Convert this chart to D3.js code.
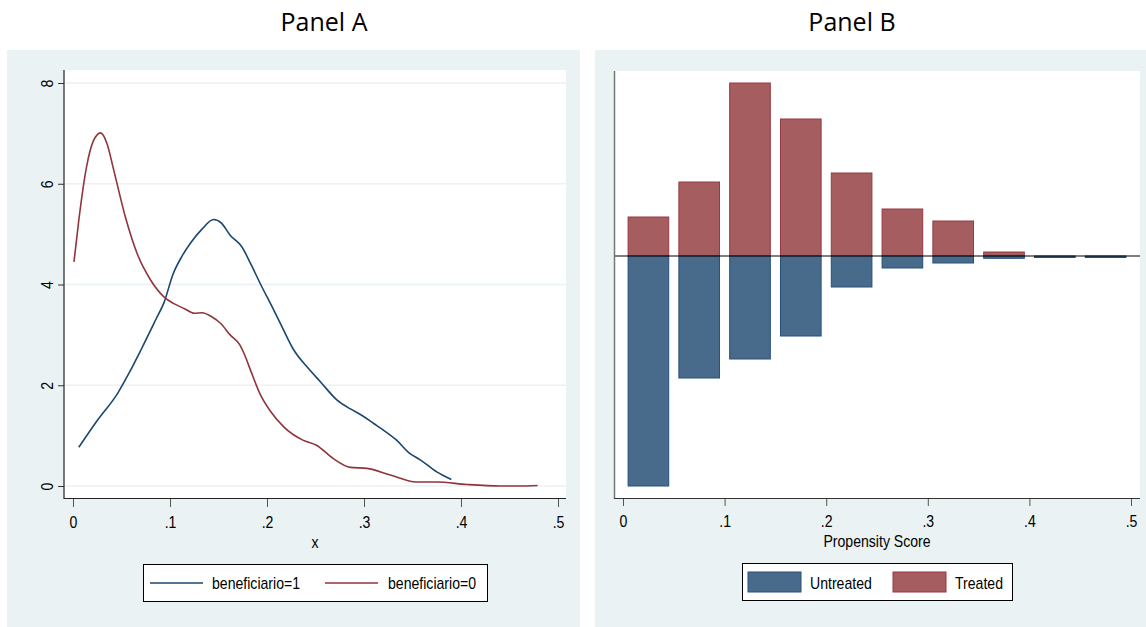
<!DOCTYPE html>
<html>
<head>
<meta charset="utf-8">
<script src="https://cdn.jsdelivr.net/npm/d3@7"></script>
<style>
  body { margin: 0; background: white; }
  .lab { font-family: 'Liberation Sans', Arial, sans-serif; font-size: 16px; fill: #000; }
  .title { font-family: 'Open Sans', 'Noto Sans', sans-serif; font-size: 25px; fill: #000; }
</style>
</head>
<body>
<script>
// Panel A: kernel density, [x, density]
var densTreated = [[0.006,0.77],[0.025,1.3],[0.046,1.84],[0.058,2.25],[0.070,2.70],[0.085,3.29],[0.094,3.65],
  [0.103,4.2],[0.112,4.55],[0.121,4.82],[0.133,5.1],[0.145,5.29],[0.153,5.22],[0.162,4.98],[0.174,4.75],
  [0.183,4.42],[0.193,4.02],[0.207,3.49],[0.217,3.1],[0.227,2.72],[0.241,2.37],[0.255,2.07],[0.272,1.71],
  [0.286,1.53],[0.298,1.40],[0.310,1.24],[0.320,1.11],[0.333,0.92],[0.347,0.65],[0.358,0.52],[0.375,0.28],[0.390,0.13]];
var densControl = [[0.001,4.45],[0.006,5.28],[0.014,6.34],[0.021,6.85],[0.0285,7.01],[0.035,6.8],[0.042,6.27],
  [0.054,5.34],[0.066,4.62],[0.080,4.09],[0.094,3.75],[0.104,3.62],[0.115,3.52],[0.125,3.43],[0.133,3.44],
  [0.143,3.36],[0.152,3.23],[0.162,3.0],[0.172,2.8],[0.177,2.6],[0.183,2.3],[0.193,1.82],[0.203,1.5],
  [0.217,1.18],[0.237,0.91],[0.251,0.81],[0.268,0.55],[0.286,0.37],[0.303,0.35],[0.327,0.22],[0.354,0.08],
  [0.375,0.08],[0.406,0.03],[0.440,0.0],[0.460,0.0],[0.479,0.01]];
var densLabels = ['beneficiario=1', 'beneficiario=0'];

// Panel B: propensity score histogram (bins of .05), heights in bar units
var binStarts = [0, 0.05, 0.1, 0.15, 0.2, 0.25, 0.3, 0.35, 0.4, 0.45];
var treated = [39, 74, 173, 137, 83, 47, 35, 4, 0, 0];
var untreated = [230, 122, 103, 80, 31, 12, 7, 2.3, 1.5, 1.5];
var histLabels = ['Untreated', 'Treated'];

var xTicks = [0, 0.1, 0.2, 0.3, 0.4, 0.5];
var yTicksA = [0, 2, 4, 6, 8];

var BG = '#eaf2f3';
var BLUE = '#1a476f', RED = '#90353b';
var BAR_BLUE = '#486b8b', BAR_BLUE_EDGE = '#26507a';
var BAR_RED = '#a55d60', BAR_RED_EDGE = '#953a42';
var NARROW = 0.88; // Stata's labels are set in a condensed Arial

var fmt = function (d) { return d === 0 ? '0' : d3.format('.1f')(d).replace(/^0/, ''); };

// place a condensed label at (x, y)
function label(g, x, y, txt, anchor) {
  return g.append('text').attr('class', 'lab')
    .attr('transform', 'translate(' + x + ',' + y + ') scale(' + NARROW + ',1)')
    .attr('text-anchor', anchor || 'start').text(txt);
}

var svg = d3.select('body').append('svg').attr('width', 1146).attr('height', 627);

// ---------- Panel A ----------
svg.append('text').attr('class', 'title').attr('x', 324).attr('y', 31).attr('text-anchor', 'middle').text('Panel A');
var a = svg.append('g');
a.append('rect').attr('x', 7).attr('y', 50).attr('width', 573).attr('height', 577).attr('fill', BG);
a.append('rect').attr('x', 64).attr('y', 70).attr('width', 502).attr('height', 428).attr('fill', 'white');

var xA = d3.scaleLinear().domain([0, 0.5]).range([73, 558]);
var yA = d3.scaleLinear().domain([0, 8]).range([486, 83]);

a.selectAll('.grid').data(yTicksA).enter().append('line')
  .attr('x1', 65).attr('x2', 566).attr('y1', yA).attr('y2', yA)
  .attr('stroke', BG).attr('stroke-width', 1.6);

var line = d3.line().x(function (d) { return xA(d[0]); }).y(function (d) { return yA(d[1]); }).curve(d3.curveMonotoneX);
a.append('path').datum(densTreated).attr('d', line).attr('fill', 'none').attr('stroke', BLUE).attr('stroke-width', 1.6);
a.append('path').datum(densControl).attr('d', line).attr('fill', 'none').attr('stroke', RED).attr('stroke-width', 1.6);

var yAxA = a.append('g').attr('class', 'lab').attr('transform', 'translate(64,0)')
  .call(d3.axisLeft(yA).tickValues(yTicksA).tickSize(6).tickFormat(d3.format('d')));
yAxA.select('.domain').remove();
yAxA.selectAll('text').attr('transform', 'rotate(-90) scale(' + NARROW + ',1)').attr('x', 0).attr('y', -11).attr('dy', 0)
  .attr('text-anchor', 'middle').attr('fill', '#000').style('font-size', '16px');
yAxA.selectAll('line').attr('stroke', '#333');

var xAxA = a.append('g').attr('class', 'lab').attr('transform', 'translate(0,499)')
  .call(d3.axisBottom(xA).tickValues(xTicks).tickSize(8).tickPadding(10).tickFormat(fmt));
xAxA.select('.domain').remove();
xAxA.selectAll('text').attr('fill', '#000').style('font-size', '16px').attr('transform', 'scale(' + NARROW + ',1)');
xAxA.selectAll('line').attr('stroke', '#555');

a.append('line').attr('x1', 64).attr('x2', 64).attr('y1', 70).attr('y2', 499).attr('stroke', '#222').attr('stroke-width', 1.2);
a.append('line').attr('x1', 64).attr('x2', 566).attr('y1', 498.5).attr('y2', 498.5).attr('stroke', '#222').attr('stroke-width', 1.2);
label(a, 315, 548, 'x', 'middle');

var legA = a.append('g');
legA.append('rect').attr('x', 143.5).attr('y', 564.5).attr('width', 344).attr('height', 37)
  .attr('fill', 'white').attr('stroke', '#000');
[[150, BLUE, 212], [325, RED, 388]].forEach(function (p, i) {
  legA.append('line').attr('x1', p[0]).attr('x2', p[0] + 53).attr('y1', 583).attr('y2', 583)
    .attr('stroke', p[1]).attr('stroke-width', 1.6);
  label(legA, p[2], 589, densLabels[i]);
});

// ---------- Panel B ----------
svg.append('text').attr('class', 'title').attr('x', 852).attr('y', 31).attr('text-anchor', 'middle').text('Panel B');
var b = svg.append('g');
b.append('rect').attr('x', 595).attr('y', 50).attr('width', 551).attr('height', 577).attr('fill', BG);
b.append('rect').attr('x', 615).attr('y', 71).attr('width', 525).attr('height', 427).attr('fill', 'white');

var xB = d3.scaleLinear().domain([0, 0.5]).range([623, 1131]);
var yB = d3.scaleLinear().domain([-230, 185]).range([486, 71]);
var gap = 0.005;

b.selectAll('.tr').data(treated).enter().append('rect')
  .attr('x', function (d, i) { return xB(binStarts[i] + gap); })
  .attr('width', function (d, i) { return xB(binStarts[i] + 0.05 - gap) - xB(binStarts[i] + gap); })
  .attr('y', function (d) { return yB(d); })
  .attr('height', function (d) { return yB(0) - yB(d); })
  .attr('fill', BAR_RED).attr('stroke', BAR_RED_EDGE).attr('stroke-width', function (d) { return d > 0 ? 1 : 0; });

b.selectAll('.un').data(untreated).enter().append('rect')
  .attr('x', function (d, i) { return xB(binStarts[i] + gap); })
  .attr('width', function (d, i) { return xB(binStarts[i] + 0.05 - gap) - xB(binStarts[i] + gap); })
  .attr('y', yB(0))
  .attr('height', function (d) { return yB(-d) - yB(0); })
  .attr('fill', BAR_BLUE).attr('stroke', BAR_BLUE_EDGE).attr('stroke-width', 1);

b.append('line').attr('x1', 615).attr('x2', 1140).attr('y1', yB(0)).attr('y2', yB(0)).attr('stroke', '#000').attr('stroke-width', 1.2);

var xAxB = b.append('g').attr('class', 'lab').attr('transform', 'translate(0,499)')
  .call(d3.axisBottom(xB).tickValues(xTicks).tickSize(7).tickPadding(10).tickFormat(fmt));
xAxB.select('.domain').remove();
xAxB.selectAll('text').attr('fill', '#000').style('font-size', '16px').attr('transform', 'scale(' + NARROW + ',1)');
xAxB.selectAll('line').attr('stroke', '#555');

b.append('line').attr('x1', 614.5).attr('x2', 614.5).attr('y1', 71).attr('y2', 499).attr('stroke', '#777').attr('stroke-width', 1.5);
b.append('line').attr('x1', 614).attr('x2', 1140).attr('y1', 498.5).attr('y2', 498.5).attr('stroke', '#333').attr('stroke-width', 1.2);
label(b, 877, 547, 'Propensity Score', 'middle');

var legB = b.append('g');
legB.append('rect').attr('x', 742.5).attr('y', 563.5).attr('width', 270).attr('height', 37)
  .attr('fill', 'white').attr('stroke', '#000');
[[748, BAR_BLUE, BAR_BLUE_EDGE, 810], [893, BAR_RED, BAR_RED_EDGE, 955]].forEach(function (p, i) {
  legB.append('rect').attr('x', p[0]).attr('y', 572).attr('width', 53).attr('height', 20)
    .attr('fill', p[1]).attr('stroke', p[2]);
  label(legB, p[3], 589, histLabels[i]);
});
</script>
</body>
</html>
